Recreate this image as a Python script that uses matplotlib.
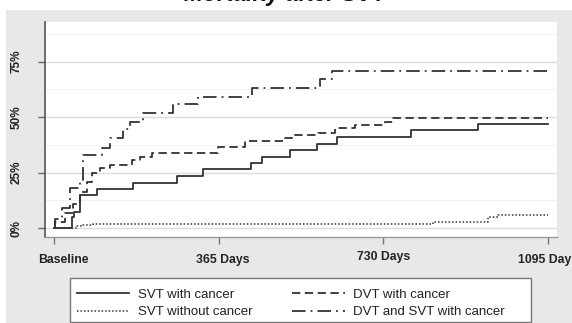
import matplotlib
matplotlib.use("Agg")
import matplotlib.pyplot as plt
import matplotlib.transforms as mtransforms
from matplotlib.patches import Rectangle

plt.rcParams['font.family'] = ['Liberation Sans', 'DejaVu Sans']

# Kaplan-Meier style cumulative mortality (%), step changes at the given days
svt_cancer_days = [0, 40, 44, 58, 95, 175, 273, 330, 437, 461, 523, 583, 627, 791, 940, 1095]
svt_cancer_pct = [0, 5, 7, 15, 17.5, 20.5, 23.5, 26.5, 29.5, 32, 35, 38, 41, 44, 47, 47]

dvt_cancer_days = [0, 2, 24, 42, 58, 73, 84, 102, 124, 173, 191, 217, 363, 423, 508,
                   527, 585, 623, 667, 734, 751, 1095]
dvt_cancer_pct = [0, 2.7, 6.7, 11, 16, 20.7, 24.6, 27, 28.4, 30.6, 32, 33.8, 36.5, 39, 40.5,
                  42, 43, 45, 46.4, 47.7, 49.5, 49.5]

svt_nocancer_days = [0, 51, 64, 86, 840, 962, 984, 1095]
svt_nocancer_pct = [0, 0.7, 1.3, 2, 2.7, 5, 6, 6]

dvt_svt_cancer_days = [0, 2, 18, 35, 58, 64, 106, 124, 153, 168, 197, 264, 319, 439, 590, 616, 1095]
dvt_svt_cancer_pct = [0, 4, 9, 18, 21.6, 33, 36, 40.5, 44.6, 47.7, 52, 56, 59, 63, 67, 70.7, 70.7]

x_ticks = [0, 365, 730, 1095]
x_labels = ["Baseline", "365 Days", "730 Days", "1095 Days"]
y_ticks = [0, 25, 50, 75]
y_labels = ["0%", "25%", "50%", "75%"]

W, H = 572, 323
fig = plt.figure(figsize=(W / 100, H / 100), dpi=100)
fig.patch.set_facecolor("white")

# light grey panel behind the plot
fig.add_artist(Rectangle((6 / W, 0), 1 - 6 / W, 1 - 10 / H, transform=fig.transFigure,
                         facecolor="#e8e8e8", edgecolor="none", zorder=-5))

fig.text(285 / W, 1 - 0.5 / H, "Mortality after SVT", ha="center", va="baseline",
         fontsize=16.5, fontweight="bold", fontstyle="italic", color="#111111")

ax = fig.add_axes([45 / W, 1 - 237 / H, (557 - 45) / W, (237 - 22) / H], zorder=2)
ax.set_facecolor("white")
ax.set_xlim(-20, 1115)
ax.set_ylim(-4.05, 92.8)

# grid
for v in [12.5, 37.5, 62.5, 87.5]:
    ax.axhline(v, color="#f1f1f1", lw=0.8, zorder=1)
for v in y_ticks:
    ax.axhline(v, color="#dcdcdc", lw=1.0, zorder=1)

col = "#333333"
ax.step(svt_cancer_days, svt_cancer_pct, where="post", color=col, lw=1.3,
        label="SVT with cancer", zorder=3)
ax.step(dvt_cancer_days, dvt_cancer_pct, where="post", color=col, lw=1.3,
        linestyle=(0, (4.6, 2.5)), label="DVT with cancer", zorder=3)
ax.step(svt_nocancer_days, svt_nocancer_pct, where="post", color=col, lw=1.1,
        linestyle=(0, (1.0, 1.3)), label="SVT without cancer", zorder=3)
ax.step(dvt_svt_cancer_days, dvt_svt_cancer_pct, where="post", color=col, lw=1.3,
        linestyle=(0, (7.5, 2.8, 1.0, 2.8)), label="DVT and SVT with cancer", zorder=3)

for s in ["top", "right"]:
    ax.spines[s].set_visible(False)
ax.spines["left"].set_color("#555555")
ax.spines["left"].set_linewidth(1.2)
ax.spines["bottom"].set_color("#9a9a9a")
ax.spines["bottom"].set_linewidth(1.0)

ax.set_xticks(x_ticks)
ax.set_xticklabels(x_labels, fontsize=8.8, fontweight="bold", color="#222222")
ax.set_yticks(y_ticks)
ax.set_yticklabels(y_labels, fontsize=8.5, fontweight="bold", color="#222222",
                   rotation=90, va="center")
ax.tick_params(axis="x", length=5, width=1.0, color="#777777", pad=7)
ax.tick_params(axis="y", length=5, width=1.0, color="#666666", pad=11)

# nudge a few tick labels
xl = ax.get_xticklabels()
xl[0].set_transform(xl[0].get_transform() + mtransforms.ScaledTranslation(9 / 100, 0, fig.dpi_scale_trans))
xl[1].set_transform(xl[1].get_transform() + mtransforms.ScaledTranslation(4 / 100, 0, fig.dpi_scale_trans))
xl[2].set_transform(xl[2].get_transform() + mtransforms.ScaledTranslation(0, 3 / 100, fig.dpi_scale_trans))

# legend box
fig.add_artist(Rectangle((70 / W, 1 - 322 / H), (531 - 70) / W, (322 - 278) / H,
                         transform=fig.transFigure, facecolor="white",
                         edgecolor="#777777", lw=1.0, zorder=3))

handles, labels = ax.get_legend_handles_labels()
order = [0, 2, 1, 3]
leg = fig.legend([handles[i] for i in order], [labels[i] for i in order], ncol=2,
                 loc="upper left", bbox_to_anchor=(70 / W, 1 - 282 / H),
                 bbox_transform=fig.transFigure, fontsize=9.5, frameon=False,
                 borderaxespad=0, handlelength=4.0, handletextpad=0.65,
                 columnspacing=3.0, borderpad=0.5, labelspacing=0.4)
leg.set_zorder(4)
for t in leg.get_texts():
    t.set_color("#222222")

fig.savefig("out.png", dpi=100, facecolor=fig.get_facecolor())
